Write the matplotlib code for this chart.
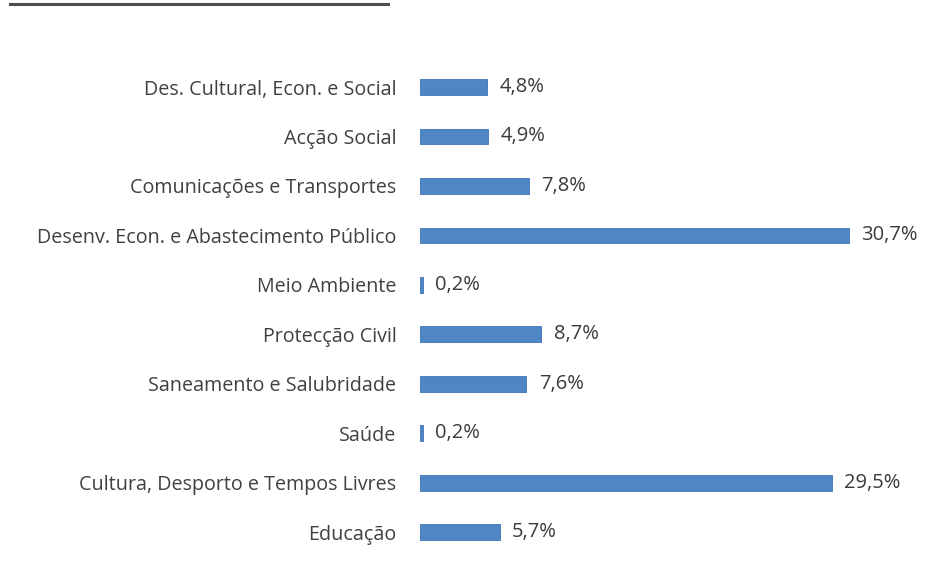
import matplotlib.pyplot as plt
from matplotlib.lines import Line2D

# categories listed bottom -> top
categories = ["Educação", "Cultura, Desporto e Tempos Livres", "Saúde",
              "Saneamento e Salubridade", "Protecção Civil", "Meio Ambiente",
              "Desenv. Econ. e Abastecimento Público", "Comunicações e Transportes",
              "Acção Social", "Des. Cultural, Econ. e Social"]
values = [5.7, 29.5, 0.2, 7.6, 8.7, 0.2, 30.7, 7.8, 4.9, 4.8]
value_labels = ["5,7%", "29,5%", "0,2%", "7,6%", "8,7%", "0,2%", "30,7%", "7,8%", "4,9%", "4,8%"]

plt.rcParams['font.family'] = ['Open Sans', 'DejaVu Sans']

fig = plt.figure(figsize=(9.28, 5.82), dpi=100)
ax = fig.add_axes([420/928, 0.043, (910-420)/928, 0.85])

y = list(range(len(categories)))
ax.barh(y, values, height=0.32, color="#4F86C6", edgecolor="#3F74B4", linewidth=0.6)

for yi, v, lab in zip(y, values, value_labels):
    ax.text(v + 0.9, yi, lab, va='center', ha='left', fontsize=14.5, color="#3a3a3a")

ax.set_xlim(0, 35.1)
ax.set_ylim(-0.5, len(categories) - 0.5)
ax.set_yticks(y)
ax.set_yticklabels(categories, fontsize=14.2, color="#404040")
ax.tick_params(axis='y', length=0, pad=17)
ax.set_xticks([])
for s in ax.spines.values():
    s.set_visible(False)

# underline of the (cropped) heading at the very top
fig.add_artist(Line2D([10/928, 388/928], [1 - 4/582, 1 - 4/582], color="#4a4f4c", linewidth=2.2))

fig.savefig("out.png", dpi=100)
